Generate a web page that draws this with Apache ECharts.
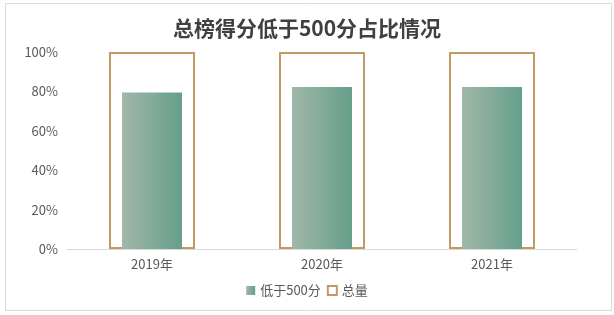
<!DOCTYPE html>
<html>
<head>
<meta charset="utf-8">
<script src="https://cdn.jsdelivr.net/npm/echarts@6/dist/echarts.min.js"></script>
<style>
  html, body { margin: 0; padding: 0; background: #fff; }
  #main { width: 614px; height: 315px; }
</style>
</head>
<body>
<div id="main"></div>
<script>
// 数据
var years = ['2019年', '2020年', '2021年'];
var lowScore = [79.5, 82.2, 82.2];   // 低于500分
var total = [100, 100, 100];         // 总量
var yTicks = [0, 20, 40, 60, 80, 100];

var chart = echarts.init(document.getElementById('main'));
var font = '"Noto Sans CJK SC", "Noto Sans", sans-serif';

var option = {
  backgroundColor: '#ffffff',
  textStyle: { fontFamily: font },
  graphic: [{
    type: 'rect',
    shape: { x: 5.5, y: 3.5, width: 606, height: 307 },
    style: { fill: 'none', stroke: '#d9d9d9', lineWidth: 1 },
    silent: true
  }],
  title: {
    text: '总榜得分低于500分占比情况',
    left: 'center',
    top: 13,
    textStyle: { fontSize: 21, fontWeight: 'bold', color: '#404040', fontFamily: font }
  },
  legend: {
    bottom: 13,
    left: 'center',
    itemWidth: 9,
    itemHeight: 9,
    itemGap: 6,
    textStyle: { fontSize: 13, color: '#595959', fontFamily: font },
    data: [
      { name: '低于500分', icon: 'rect' },
      { name: '总量', icon: 'rect', itemStyle: { color: '#ffffff', borderColor: '#BF9A62', borderWidth: 2 } }
    ]
  },
  grid: { left: 67, right: 37, top: 52, bottom: 66 },
  xAxis: [{
    type: 'category',
    data: years,
    axisLine: { lineStyle: { color: '#d9d9d9' } },
    axisTick: { show: false },
    axisLabel: { color: '#595959', fontSize: 13, margin: 9, fontFamily: font }
  }, {
    type: 'category',
    data: years,
    show: false
  }],
  yAxis: {
    type: 'value',
    min: yTicks[0],
    max: yTicks[yTicks.length - 1],
    interval: 20,
    axisLine: { show: false },
    axisTick: { show: false },
    splitLine: { show: false },
    axisLabel: { formatter: '{value}%', color: '#595959', fontSize: 13, margin: 9, fontFamily: font }
  },
  series: [{
    name: '低于500分',
    type: 'bar',
    xAxisIndex: 0,
    barWidth: 60,
    data: lowScore,
    z: 3,
    itemStyle: {
      color: new echarts.graphic.LinearGradient(0, 0, 1, 0, [
        { offset: 0, color: '#A1B7A9' },
        { offset: 1, color: '#659F8A' }
      ]),
      shadowColor: 'rgba(0,0,0,0.35)',
      shadowBlur: 4,
      shadowOffsetX: 4,
      shadowOffsetY: 2
    }
  }, {
    name: '总量',
    type: 'bar',
    xAxisIndex: 1,
    barWidth: 86,
    data: total,
    z: 2,
    itemStyle: {
      color: 'rgba(0,0,0,0)',
      borderColor: '#BF9A62',
      borderWidth: 2
    }
  }]
};

chart.setOption(option);
</script>
</body>
</html>
